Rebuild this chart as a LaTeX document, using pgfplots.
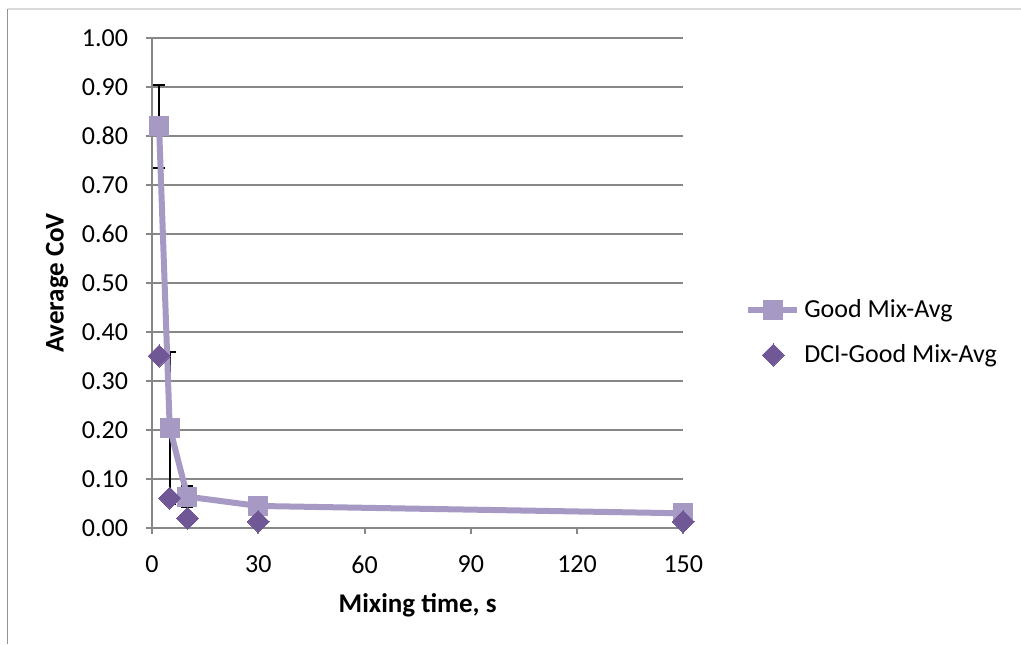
\documentclass[border=0pt]{standalone}
\usepackage{pgfplots}
\pgfplotsset{compat=1.18}
\usepackage{fontspec}
\setmainfont{Carlito}
\definecolor{gridgray}{HTML}{878787}
\definecolor{goodmix}{RGB}{166,153,196}
\definecolor{dci}{RGB}{112,88,150}
\definecolor{framegray}{HTML}{D9D9D9}
\pgfplotsset{
  lineleg/.style={legend image code/.code={\draw[##1, mark repeat=2, mark phase=2] plot coordinates {(1.5pt,0pt) (13.75pt,0pt) (26pt,0pt)};}},
  markleg/.style={legend image code/.code={\path[draw=none] (0pt,0pt) -- (27.5pt,0pt); \path[##1, draw=none] plot coordinates {(14pt,0pt)};}},
}
\begin{document}
\begin{tikzpicture}[font=\fontsize{13}{15.6}\selectfont]
\useasboundingbox (0,0) rectangle (510.5pt,322pt);
\draw[framegray, line width=0.75pt] (3.75pt,317.5pt) -- (510.5pt,317.5pt);
\draw[gridgray!90, line width=0.75pt] (3.75pt,317.5pt) -- (3.75pt,0pt);
\begin{axis}[
  at={(76pt,58pt)}, anchor=south west,
  scale only axis, width=265.65pt, height=245pt,
  xmin=0, xmax=150, ymin=0, ymax=1,
  xtick={0,30,60,90,120,150},
  ytick={0,0.1,0.2,0.3,0.4,0.5,0.6,0.7,0.8,0.9,1},
  axis x line*=bottom, axis y line*=left,
  axis line style={draw=gridgray, line width=1pt, -},
  ymajorgrids, major grid style={draw=gridgray, line width=1pt},
  tick align=outside, major tick length=3pt,
  tick style={draw=gridgray, line width=1pt},
  /pgf/number format/assume math mode=true,
  yticklabel style={font=\fontsize{13}{15.6}\selectfont, xshift=-5.5pt, /pgf/number format/fixed, /pgf/number format/fixed zerofill, /pgf/number format/precision=2},
  xticklabel style={font=\fontsize{13}{15.6}\selectfont, yshift=-7.5pt},
  every axis y label/.style={at={(axis description cs:-0.1788,0.5)}, rotate=90, anchor=center, font=\fontsize{13.5}{16}\selectfont\bfseries},
  every axis x label/.style={at={(axis description cs:0.5,-0.157)}, anchor=center, font=\fontsize{13.5}{16}\selectfont\bfseries},
  xlabel={Mixing time, s},
  ylabel={Average CoV},
  legend style={at={(axis description cs:1.116,0.399)}, anchor=west, draw=none, fill=none,
    font=\fontsize{13}{15.6}\selectfont, row sep=8pt, inner sep=0pt},
  legend cell align=left,
  clip=false,
]
% error bars (drawn below the line)
\addplot[forget plot, draw=none, mark=none,
  error bars/.cd, y dir=both, y explicit,
  error bar style={draw=black, line width=1pt, solid},
  error mark options={draw=black, rotate=90, mark size=3pt, line width=1pt}]
  table[x=x, y=y, y error=e] {
x y e
2 0.820 0.085
5 0.205 0.155
10 0.064 0.022
30 0.045 0
150 0.030 0
};
\addplot[goodmix, line width=3pt, mark=square*, mark size=4.75pt,
  mark options={fill=goodmix, draw=goodmix, line width=0pt}, lineleg]
  table[x=x, y=y] {
x y
2 0.820
5 0.205
10 0.064
30 0.045
150 0.030
};
\addlegendentry{Good Mix-Avg}
\addplot[only marks, mark=square*, mark size=3.9pt,
  mark options={rotate=45, fill=dci, draw=dci, line width=0pt}, markleg]
  table[x=x, y=y] {
x y
2 0.351
5 0.061
10 0.020
30 0.013
150 0.013
};
\addlegendentry{DCI-Good Mix-Avg}
\end{axis}
\end{tikzpicture}
\end{document}
